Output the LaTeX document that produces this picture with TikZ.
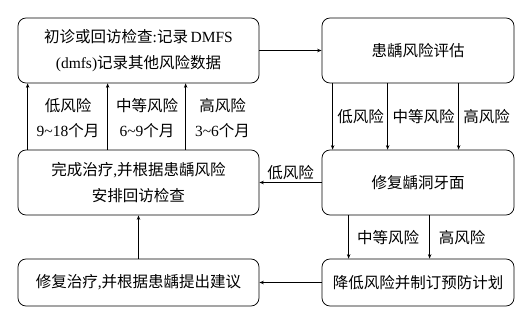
\documentclass[tikz,border=0pt]{standalone}
\usepackage{fontspec}
\setmainfont{Liberation Serif}
\newfontfamily\cjk{Noto Sans CJK SC}
\usetikzlibrary{arrows.meta}
\begin{document}
\begin{tikzpicture}[x=1pt,y=-1pt,
  box/.style={draw, rounded corners=8pt, line width=0.75pt, align=center, inner sep=0pt,
              font=\cjk\fontsize{15.5}{26}\selectfont},
  wide/.style={minimum width=241pt},
  narrow/.style={minimum width=192pt},
  tall/.style={minimum height=65pt},
  short/.style={minimum height=47pt},
  arr/.style={-{Stealth[length=4.5pt,width=3.5pt]}, line width=0.75pt},
  lab/.style={font=\cjk\fontsize{15.5}{25}\selectfont, align=center, inner sep=0pt}]
\useasboundingbox (0,0) rectangle (530,317);
% boxes
\node[box, wide, tall] (A) at (138.5,50.5) {初诊或回访检查{\rmfamily :}记录{\rmfamily\,DMFS}\\{\rmfamily (dmfs)}记录其他风险数据};
\node[box, narrow, tall] (B) at (418,50.5) {患龋风险评估};
\node[box, wide, tall] (C) at (138.5,182.5) {完成治疗{\rmfamily ,}并根据患龋风险\\安排回访检查};
\node[box, narrow, tall] (D) at (418,182.5) {修复龋洞牙面};
\node[box, wide, short] (E) at (138.5,282.5) {修复治疗{\rmfamily ,}并根据患龋提出建议};
\node[box, narrow, short] (F) at (418,282.5) {降低风险并制订预防计划};
% connectors
\draw[arr] (A.east) -- (B.west);
\draw[arr] ([xshift=10pt]C.north west) -- ([xshift=10pt]A.south west);
\draw[arr] ([xshift=90pt]C.north west) -- ([xshift=90pt]A.south west);
\draw[arr] ([xshift=168pt]C.north west) -- ([xshift=168pt]A.south west);
\draw[arr] ([xshift=11pt]B.south west) -- ([xshift=11pt]D.north west);
\draw[arr] ([xshift=66pt]B.south west) -- ([xshift=66pt]D.north west);
\draw[arr] ([xshift=137pt]B.south west) -- ([xshift=137pt]D.north west);
\draw[arr] (D.west) -- (C.east);
\draw[arr] ([xshift=27pt]D.south west) -- ([xshift=27pt]F.north west);
\draw[arr] ([xshift=108pt]D.south west) -- ([xshift=108pt]F.north west);
\draw[arr] (F.west) -- (E.east);
\draw[arr] (E.north) -- (C.south);
% labels
\node[lab] (l1) at (68,118) {低风险\\{\rmfamily 9\textasciitilde18}个月};
\node[lab] (l2) at (147,118) {中等风险\\{\rmfamily 6\textasciitilde9}个月};
\node[lab] (l3) at (222.5,118) {高风险\\{\rmfamily 3\textasciitilde6}个月};
\node[lab] (r1) at (360.5,117) {低风险};
\node[lab] (r2) at (423.5,117) {中等风险};
\node[lab] (r3) at (486.5,117) {高风险};
\node[lab] (m1) at (290.5,173) {低风险};
\node[lab] (d1) at (388,238) {中等风险};
\node[lab] (d2) at (462,238) {高风险};
\end{tikzpicture}
\end{document}
